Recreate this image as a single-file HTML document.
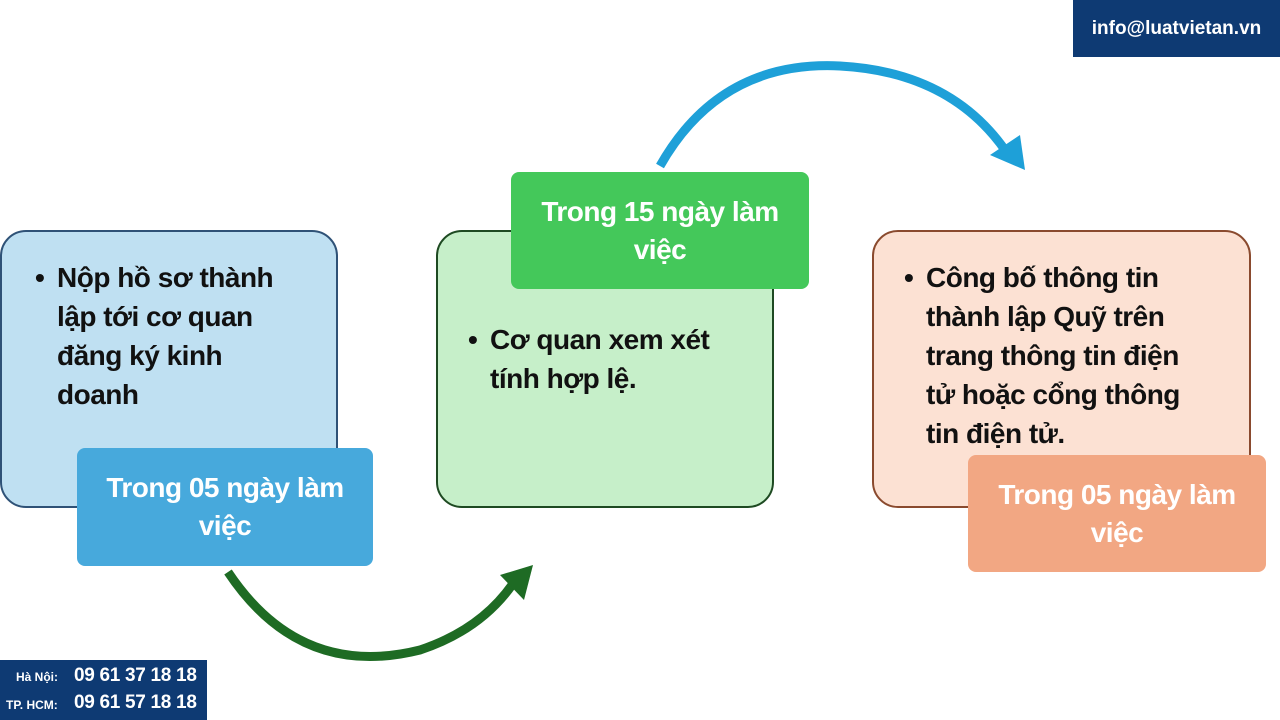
<!DOCTYPE html>
<html><head><meta charset="utf-8"><style>
body{margin:0;width:1280px;height:720px;background:#fff;position:relative;overflow:hidden;font-family:"Liberation Sans",sans-serif;}
.b{position:absolute;border-radius:26px;box-sizing:border-box;border:2px solid;}
.t{position:absolute;font-weight:bold;font-size:28px;line-height:39px;color:#111;letter-spacing:-0.5px;}
.t span{position:absolute;left:-22px;}
.l{position:absolute;border-radius:8px;color:#fff;font-weight:bold;font-size:28px;line-height:38px;text-align:center;display:flex;align-items:center;justify-content:center;letter-spacing:-0.5px;}
.ph{position:absolute;white-space:nowrap;}
</style></head><body>
<div class="b" style="left:0;top:230px;width:338px;height:278px;background:#bfe0f2;border-color:#2f5277"></div>
<div class="t" style="left:57px;top:258px"><span>•</span>Nộp hồ sơ thành<br>lập tới cơ quan<br>đăng ký kinh<br>doanh</div>
<div class="l" style="left:77px;top:448px;width:296px;height:118px;background:#47a9dc">Trong 05 ngày làm<br>việc</div>

<div class="b" style="left:436px;top:230px;width:338px;height:278px;background:#c6efc9;border-color:#1e4a22"></div>
<div class="t" style="left:490px;top:320px"><span>•</span>Cơ quan xem xét<br>tính hợp lệ.</div>
<div class="l" style="left:511px;top:172px;width:298px;height:117px;background:#44c85a">Trong 15 ngày làm<br>việc</div>

<div class="b" style="left:872px;top:230px;width:379px;height:278px;background:#fce1d3;border-color:#8a4a2e"></div>
<div class="t" style="left:926px;top:258px"><span>•</span>Công bố thông tin<br>thành lập Quỹ trên<br>trang thông tin điện<br>tử hoặc cổng thông<br>tin điện tử.</div>
<div class="l" style="left:968px;top:455px;width:298px;height:117px;background:#f2a783">Trong 05 ngày làm<br>việc</div>

<svg style="position:absolute;left:0;top:0" width="1280" height="720">
<path d="M228,572 Q300,680 420,650 Q480,630 512,585" fill="none" stroke="#1e6b24" stroke-width="9"/>
<polygon points="500,575 533,565 524,600" fill="#1e6b24"/>
<path d="M660,166 Q720,60 840,66 Q950,72 1005,150" fill="none" stroke="#1ea0d8" stroke-width="9"/>
<polygon points="990,155 1025,170 1020,135" fill="#1ea0d8"/>
</svg>

<div style="position:absolute;left:1073px;top:0;width:207px;height:57px;background:#0e3a73;color:#fff;font-weight:bold;font-size:19px;line-height:57px;text-align:center">info@luatvietan.vn</div>
<div style="position:absolute;left:0;top:660px;width:207px;height:60px;background:#0e3a73;color:#fff;font-weight:bold">
<div class="ph" style="left:16px;top:10px;font-size:12px">Hà Nội:</div>
<div class="ph" style="left:74px;top:5px;font-size:19px;letter-spacing:-0.3px">09 61 37 18 18</div>
<div class="ph" style="left:6px;top:38px;font-size:12px">TP. HCM:</div>
<div class="ph" style="left:74px;top:32px;font-size:19px;letter-spacing:-0.3px">09 61 57 18 18</div>
</div>
</body></html>
